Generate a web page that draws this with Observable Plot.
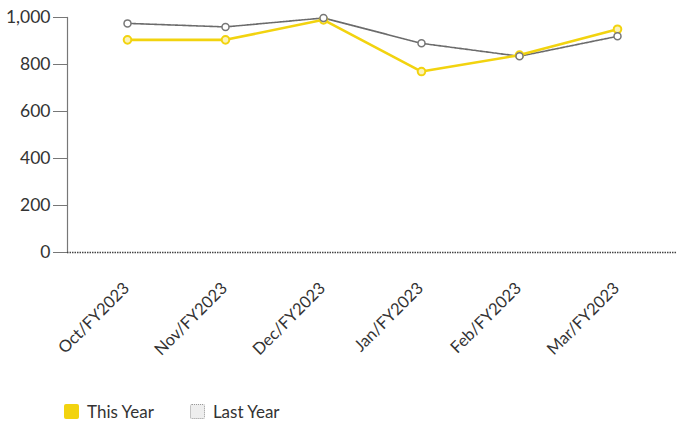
<!DOCTYPE html>
<html>
<head>
<meta charset="utf-8">
<script src="https://cdn.jsdelivr.net/npm/d3@7"></script>
<script src="https://cdn.jsdelivr.net/npm/@observablehq/plot@0.6"></script>
<style>
  html, body { margin: 0; padding: 0; background: #fff; }
  body { width: 676px; height: 426px; overflow: hidden; font-family: Lato, "Noto Sans", sans-serif; }
  #legend { display: flex; align-items: center; margin-top: 9px; padding-left: 64px; font-size: 17px; color: #333; }
  .item { display: flex; align-items: center; margin-right: 36px; }
  .sw { width: 15px; height: 15px; border-radius: 2px; margin-right: 8px; box-sizing: border-box; }
</style>
</head>
<body>
<div id="chart"></div>
<div id="legend"></div>
<script>
const months = ["Oct/FY2023", "Nov/FY2023", "Dec/FY2023", "Jan/FY2023", "Feb/FY2023", "Mar/FY2023"];
const thisYear = [905, 905, 990, 770, 840, 950];
const lastYear = [975, 960, 998, 890, 835, 920];
const yTicks = [0, 200, 400, 600, 800, 1000];
const seriesNames = ["This Year", "Last Year"];
const seriesColors = ["#f2d30f", "#6b6b6b"];

const thisData = months.map((m, i) => ({month: m, value: thisYear[i]}));
const lastData = months.map((m, i) => ({month: m, value: lastYear[i]}));

const chart = Plot.plot({
  width: 676,
  height: 392,
  marginLeft: 67,
  marginRight: 0,
  marginTop: 17,
  marginBottom: 140,
  style: {fontFamily: "Lato, 'Noto Sans', sans-serif", color: "#333", background: "#fff"},
  x: {type: "point", domain: months, padding: 0.58, label: null},
  y: {domain: [0, 1000], label: null},
  marks: [
    Plot.frame({anchor: "left", stroke: "#777", strokeWidth: 1.2}),
    Plot.ruleY([0], {stroke: "#444", strokeWidth: 1.3, strokeDasharray: "1.5,1"}),
    Plot.axisY(yTicks, {tickSize: 14, tickPadding: 3, fontSize: 17.5, stroke: "#777", fill: "#333", tickFormat: d3.format(",")}),
    Plot.axisX({tickSize: 0, tickRotate: -45, fontSize: 16.5, fill: "#333", tickPadding: 33, dx: -1}),
    Plot.line(lastData, {x: "month", y: "value", stroke: seriesColors[1], strokeWidth: 1.6, strokeDasharray: "2,1"}),
    Plot.line(thisData, {x: "month", y: "value", stroke: seriesColors[0], strokeWidth: 2.6}),
    Plot.dot(thisData, {x: "month", y: "value", r: 3.8, fill: "#fbf3b8", stroke: seriesColors[0], strokeWidth: 2}),
    Plot.dot(lastData, {x: "month", y: "value", r: 3.5, fill: "#fff", stroke: "#777", strokeWidth: 1.5})
  ]
});
document.getElementById("chart").appendChild(chart);

const legend = document.getElementById("legend");
seriesNames.forEach((name, i) => {
  const item = document.createElement("div");
  item.className = "item";
  const sw = document.createElement("div");
  sw.className = "sw";
  if (i === 0) {
    sw.style.background = seriesColors[0];
  } else {
    sw.style.background = "#eee";
    sw.style.border = "1px dotted #999";
  }
  const label = document.createElement("span");
  label.textContent = name;
  item.appendChild(sw);
  item.appendChild(label);
  legend.appendChild(item);
});
</script>
</body>
</html>
